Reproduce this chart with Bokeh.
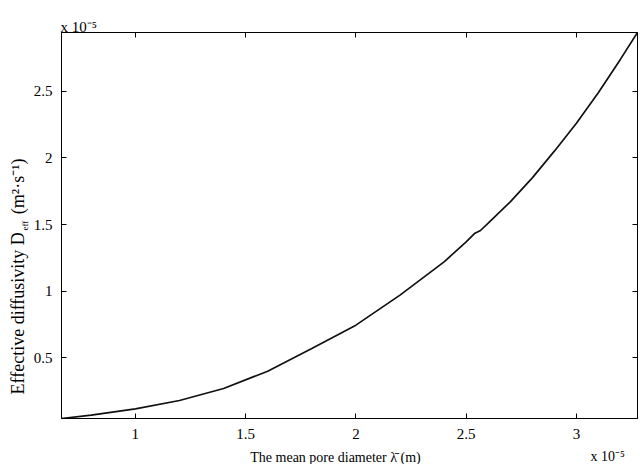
import math
from bokeh.plotting import figure
from bokeh.models import Range1d, LinearAxis, FixedTicker, Label
from bokeh.embed import file_html
from bokeh.resources import INLINE

# Data (values in units of 1e-5)
pore_diameter = [0.665, 0.80, 1.0, 1.2, 1.4, 1.6, 1.8, 2.0, 2.2, 2.4,
                 2.5, 2.54, 2.565, 2.6, 2.7, 2.8, 2.9, 3.0, 3.1, 3.2, 3.277]
diffusivity = [0.045, 0.07, 0.117, 0.18, 0.27, 0.40, 0.57, 0.745, 0.97, 1.22,
               1.37, 1.435, 1.455, 1.51, 1.67, 1.85, 2.05, 2.26, 2.49, 2.74, 2.94]

x_ticks = [1, 1.5, 2, 2.5, 3]
x_tick_labels = ["1", "1.5", "2", "2.5", "3"]
y_ticks = [0.5, 1, 1.5, 2, 2.5]
y_tick_labels = ["0.5", "1", "1.5", "2", "2.5"]

x_label = "The mean pore diameter \u03bb\u0304 (m)"
y_label_main = "Effective diffusivity D\u2003(m\u00b2\u00b7s\u207b\u00b9)"
y_label_sub = "eff"
scale_text = "x 10\u207b\u2075"

X0, X1 = 0.665, 3.277
Y0, Y1 = 0.045, 2.94

FONT = "Liberation Serif"
TICK_SIZE = "15px"

# frame geometry in canvas pixels
FL, FR, FT, FB = 61, 637, 32, 418

p = figure(width=640, height=464, output_backend="svg", toolbar_location=None,
           x_range=Range1d(X0, X1), y_range=Range1d(Y0, Y1),
           x_axis_location=None, y_axis_location=None,
           min_border_left=FL, min_border_right=640 - FR, min_border_top=FT,
           min_border_bottom=464 - FB)
p.grid.visible = False
p.outline_line_color = "black"
p.outline_line_width = 1
p.background_fill_color = "white"
p.border_fill_color = "white"


def make_axis(ticks, labels, show, standoff=10):
    ax = LinearAxis(ticker=FixedTicker(ticks=ticks))
    ax.major_label_overrides = {t: (l if show else "") for t, l in zip(ticks, labels)}
    ax.major_tick_in = 5
    ax.major_tick_out = 0
    ax.minor_tick_line_color = None
    ax.axis_line_color = "black"
    ax.major_tick_line_color = "black"
    ax.major_label_text_font = FONT
    ax.major_label_text_font_size = TICK_SIZE if show else "1px"
    ax.major_label_text_color = "black"
    ax.major_label_standoff = standoff if show else 0
    return ax


p.add_layout(make_axis(x_ticks, x_tick_labels, True), "below")
p.add_layout(make_axis(y_ticks, y_tick_labels, True, standoff=9), "left")
p.add_layout(make_axis(x_ticks, x_tick_labels, False), "above")
p.add_layout(make_axis(y_ticks, y_tick_labels, False), "right")

p.line(pore_diameter, diffusivity, line_color="#111111", line_width=1.7)


def dx(px):
    return X0 + (px - FL) / (FR - FL) * (X1 - X0)


def dy(py):
    return Y0 + (FB - py) / (FB - FT) * (Y1 - Y0)


def lab(side, text, px, py, size, angle=0.0, align="left"):
    p.add_layout(Label(x=dx(px), y=dy(py), text=text,
                       text_font=FONT, text_font_size=size, text_color="black",
                       angle=angle, text_align=align, text_baseline="alphabetic"),
                 side)


# x-axis label
lab("below", x_label, 335, 457, "14px", align="center")

# y-axis label (rotated), subscript as its own label
lab("left", y_label_main, 17, 394, "18px", angle=math.pi / 2)
lab("left", y_label_sub, 24.5, 394 - 164, "9px", angle=math.pi / 2)

# scale factors
lab("above", scale_text, 60, 26, "15px")
lab("above", scale_text, 590, 456, "14px")

open("out.html", "w").write(file_html(p, INLINE))
